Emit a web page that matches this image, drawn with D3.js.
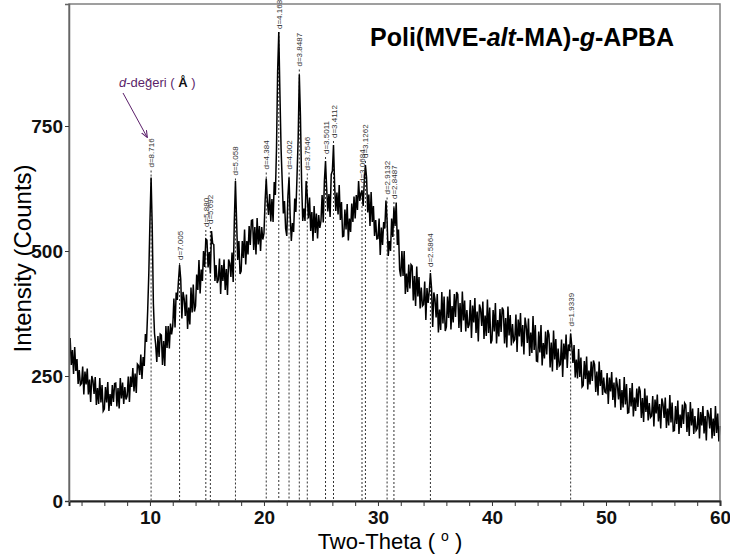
<!DOCTYPE html>
<html>
<head>
<meta charset="utf-8">
<script src="https://cdn.jsdelivr.net/npm/d3@7/dist/d3.min.js"></script>
<style>
  body { margin: 0; background: #fff; }
</style>
</head>
<body>
<script>
// XRD pattern, 2-theta from 3.0 to 60.0 in 0.1 steps
const thetaStart = 3.0;
const thetaStep = 0.1;
const intensity = [
  326,272,302,254,308,260,284,234,262,232,   // 3
  235,269,213,259,233,265,213,243,198,250,   // 4
  241,214,248,192,226,194,246,197,232,180,   // 5
  184,228,197,238,180,214,190,232,198,235,   // 6
  236,189,226,185,246,205,237,194,228,203,   // 7
  210,249,198,249,228,266,219,255,216,274,   // 8
  271,252,293,244,288,270,334,318,380,455,   // 9
  560,647,548,395,335,313,278,330,288,334,   // 10
  332,272,320,270,350,306,350,305,355,333,   // 11
  350,405,347,417,402,440,472,444,365,418,   // 12
  405,370,413,344,387,353,427,377,433,379,   // 13
  390,453,422,482,415,463,440,500,468,524,   // 14
  522,467,498,455,540,515,513,440,472,436,   // 15
  443,485,414,472,440,483,422,464,412,483,   // 16
  475,448,497,438,560,640,560,482,520,454,   // 17
  460,520,486,543,473,520,493,550,512,561,   // 18
  562,502,548,493,566,513,550,500,548,523,   // 19
  535,600,645,598,572,614,559,604,558,638,   // 20
  612,705,860,938,815,705,640,575,600,545,   // 21
  530,610,647,570,520,556,538,605,578,650,   // 22
  725,853,770,640,560,585,560,640,610,565,   // 23
  607,540,578,520,590,536,575,525,572,546,   // 24
  560,612,557,640,680,625,579,614,568,653,   // 25
  660,712,630,580,617,573,632,562,598,529,   // 26
  530,583,543,594,521,565,538,595,558,609,   // 27
  565,612,582,640,600,615,621,590,640,672,   // 28
  647,577,613,550,618,558,590,530,562,524,   // 29
  525,565,492,547,512,558,545,601,560,490,   // 30
  520,500,565,528,587,550,597,512,543,462,   // 31
  449,500,450,500,414,455,418,473,425,473,   // 32
  470,401,450,390,469,409,448,385,427,390,   // 33
  393,439,362,426,396,420,456,425,348,417,   // 34
  404,367,414,337,383,342,418,355,409,340,   // 35
  348,409,366,423,343,390,357,414,368,418,   // 36
  413,346,396,338,419,361,401,339,382,346,   // 37
  353,402,326,391,357,406,336,379,319,393,   // 38
  384,350,399,324,371,330,403,336,387,315,   // 39
  322,382,339,396,315,362,329,384,338,387,   // 40
  381,315,366,307,389,331,372,311,354,319,   // 41
  323,373,298,363,329,376,309,352,293,367,   // 42
  350,316,365,290,337,296,370,302,352,280,   // 43
  279,339,297,352,271,316,285,339,293,342,   // 44
  333,267,317,259,341,283,324,262,305,270,   // 45
  273,323,248,315,283,333,266,313,300,335,   // 46
  310,276,312,247,283,245,304,248,287,228,   // 47
  231,280,244,289,223,261,233,279,240,281,   // 48
  273,218,259,211,279,230,262,212,247,218,   // 49
  216,256,194,247,219,258,202,237,187,247,   // 50
  231,203,244,182,222,187,248,193,234,176,   // 51
  177,226,189,236,169,207,180,225,188,229,   // 52
  220,166,206,158,225,178,211,161,196,167,   // 53
  170,210,149,203,175,213,159,194,145,205,   // 54
  194,166,207,146,185,151,212,157,197,140,   // 55
  141,190,154,201,134,173,146,193,154,196,   // 56
  192,138,178,130,198,151,185,134,170,141,   // 57
  145,186,125,178,151,190,135,170,121,182,   // 58
  173,145,186,125,165,130,190,136,175,119,   // 59
  150                                         // 60
];

// marked reflections: position, d-value label, where the label sits
const peakTheta = [10.1, 12.6, 14.9, 15.3, 17.5, 20.2, 21.3, 22.2, 23.1, 23.8, 25.4, 26.1, 28.6, 28.9, 30.8, 31.4, 34.6, 46.9];
const peakLabel = ["d=8.716", "d=7.005", "d=5.880", "d=5.692", "d=5.058", "d=4.384", "d=4.168", "d=4.002", "d=3.8487",
                   "d=3.7546", "d=3.5011", "d=3.4112", "d=3.0684", "d=3.1262", "d=2.9132", "d=2.8487", "d=2.5864", "d=1.9339"];
const peakTop = [661, 476, 542, 548, 645, 657, 938, 657, 863, 655, 688, 720, 630, 680, 607, 598, 462, 343];

const xTicks = d3.range(4, 61, 2);
const yTicks = [0, 250, 500, 750];

const width = 730, height = 555;
const margin = {top: 4, right: 10, bottom: 54, left: 69};

const svg = d3.select("body").append("svg")
  .attr("width", width)
  .attr("height", height)
  .style("display", "block");

const x = d3.scaleLinear().domain([2.9, 60]).range([margin.left, width - margin.right]);
const y = d3.scaleLinear().domain([0, 994]).range([height - margin.bottom, margin.top]);

const points = intensity.map((v, i) => [thetaStart + i * thetaStep, v]);

// dashed drop lines under the curve
svg.append("g")
  .selectAll("line")
  .data(peakTheta)
  .join("line")
  .attr("x1", d => x(d)).attr("x2", d => x(d))
  .attr("y1", (d, i) => y(peakTop[i]))
  .attr("y2", y(0))
  .attr("stroke", "#333")
  .attr("stroke-width", 1)
  .attr("stroke-dasharray", "2,2");

// the pattern itself
svg.append("path")
  .datum(points)
  .attr("fill", "none")
  .attr("stroke", "#000")
  .attr("stroke-width", 1.5)
  .attr("d", d3.line().x(d => x(d[0])).y(d => y(d[1])));

// d-value labels, rotated
svg.append("g")
  .selectAll("text")
  .data(peakTheta)
  .join("text")
  .attr("transform", (d, i) => `translate(${x(d) + 3},${y(peakTop[i]) - 3}) rotate(-90)`)
  .style("font-family", "'Liberation Sans', Arial, sans-serif")
  .style("font-size", "8px")
  .style("fill", "#333")
  .text((d, i) => peakLabel[i]);

// frame
svg.append("rect")
  .attr("x", x(2.9)).attr("y", y(994))
  .attr("width", x(60) - x(2.9))
  .attr("height", y(0) - y(994))
  .attr("fill", "none")
  .attr("stroke", "#808080")
  .attr("stroke-width", 1.5);

// x axis
const xAxis = svg.append("g")
  .attr("transform", `translate(0,${y(0)})`)
  .call(d3.axisBottom(x).tickValues(xTicks).tickSize(5).tickPadding(5)
    .tickFormat(d => d % 10 === 0 ? d : ""));
xAxis.select(".domain").attr("stroke", "#222").attr("stroke-width", 2);
xAxis.selectAll(".tick line").attr("stroke", "#333");
xAxis.selectAll("text")
  .style("font-family", "'Liberation Sans Narrow', 'Liberation Sans', Arial, sans-serif")
  .style("font-size", "19px")
  .style("font-weight", "bold")
  .style("fill", "#111");

// y axis
const yAxis = svg.append("g")
  .attr("transform", `translate(${x(2.9)},0)`)
  .call(d3.axisLeft(y).tickValues(yTicks).tickSize(4).tickPadding(2));
yAxis.select(".domain").attr("stroke", "#666").attr("stroke-width", 1.5);
yAxis.selectAll(".tick line").attr("stroke", "#333");
yAxis.selectAll("text")
  .style("font-family", "'Liberation Sans Narrow', 'Liberation Sans', Arial, sans-serif")
  .style("font-size", "19px")
  .style("font-weight", "bold")
  .style("fill", "#111");

// axis titles
svg.append("text")
  .attr("transform", `translate(31,${(y(0) + y(994)) / 2 + 6}) rotate(-90)`)
  .attr("text-anchor", "middle")
  .style("font-family", "'Liberation Sans', Arial, sans-serif")
  .style("font-size", "24px")
  .text("Intensity (Counts)");

const xTitle = svg.append("text")
  .attr("x", 390).attr("y", 549)
  .attr("text-anchor", "middle")
  .style("font-family", "'Liberation Sans', Arial, sans-serif")
  .style("font-size", "22px");
xTitle.append("tspan").text("Two-Theta ( ");
xTitle.append("tspan").attr("dy", -8).style("font-size", "14px").text("o");
xTitle.append("tspan").attr("dy", 8).text(" )");

// chart title
const title = svg.append("text")
  .attr("x", 370).attr("y", 46)
  .style("font-family", "'Liberation Sans', Arial, sans-serif")
  .style("font-size", "25px")
  .style("font-weight", "bold");
title.append("tspan").text("Poli(MVE-");
title.append("tspan").style("font-style", "italic").text("alt");
title.append("tspan").text("-MA)-");
title.append("tspan").style("font-style", "italic").text("g");
title.append("tspan").text("-APBA");

// annotation with arrow
svg.append("defs").append("marker")
  .attr("id", "arrow")
  .attr("viewBox", "0 0 10 10")
  .attr("refX", 9).attr("refY", 5)
  .attr("markerWidth", 7).attr("markerHeight", 7)
  .attr("orient", "auto")
  .append("path")
  .attr("d", "M0,1L10,5L0,9")
  .attr("fill", "none")
  .attr("stroke", "#5b1f6a")
  .attr("stroke-width", 1.5);

svg.append("line")
  .attr("x1", 123).attr("y1", 93)
  .attr("x2", 147).attr("y2", 137)
  .attr("stroke", "#5b1f6a")
  .attr("stroke-width", 1)
  .attr("marker-end", "url(#arrow)");

const note = svg.append("text")
  .attr("x", 119).attr("y", 87)
  .style("font-family", "'Liberation Sans', Arial, sans-serif")
  .style("font-size", "13px")
  .style("fill", "#5b1f6a");
note.append("tspan").style("font-style", "italic").text("d");
note.append("tspan").text("-değeri ( ");
note.append("tspan").style("fill", "#111").style("font-weight", "bold").text("Å");
note.append("tspan").text(" )");
</script>
</body>
</html>
